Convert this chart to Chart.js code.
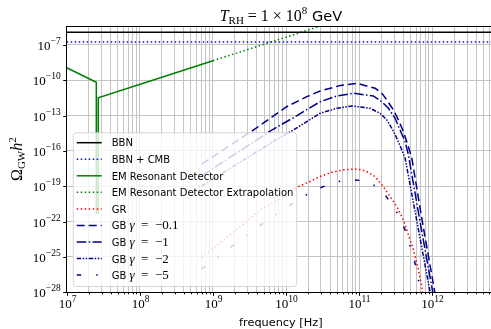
<!DOCTYPE html>
<html>
<head>
<meta charset="utf-8">
<script src="https://cdn.jsdelivr.net/npm/chart.js@4.4.1/dist/chart.umd.min.js"></script>
<style>
  html, body { margin: 0; padding: 0; background: #fff; overflow: hidden; }
  #wrap { width: 491px; height: 329px; overflow: hidden; }
</style>
</head>
<body>
<div id="wrap"><canvas id="chart"></canvas></div>
<script>
// values (frequency in Hz, Omega_GW h^2)
const bbnFreq = [1e7, 1e13];
const bbnOmega = [1.2e-6, 1.2e-6];
const cmbFreq = [1e7, 1e13];
const cmbOmega = [1.78e-7, 1.78e-7];
const emFreq = [1e7, 2.54e7, 2.54e7, 2.7e7, 2.7e7, 1e9];
const emOmega = [1.17e-9, 6.8e-11, 5.5e-22, 5.5e-22, 3.3e-12, 4.6e-9];
const emExtFreq = [1e9, 1e10, 1e11];
const emExtOmega = [4.6e-9, 4.6e-7, 4.6e-5];
const grFreq = [7.03e8, 2.35e9, 4.41e9, 9.18e9, 1.47e10, 2.13e10, 2.92e10, 4.40e10, 6.03e10, 8.79e10, 1.21e11,
  1.65e11, 2.14e11, 2.65e11, 3.27e11, 4.03e11, 4.71e11, 5.52e11, 6.46e11, 7.18e11, 7.48e11];
const grOmega = [9.1e-26, 3.7e-23, 9.8e-22, 1.32e-20, 9.3e-20, 2.57e-19, 6.8e-19, 1.66e-18, 2.45e-18, 2.95e-18, 2.14e-18,
  6.6e-19, 9.3e-20, 1.32e-20, 1.86e-21, 1.38e-22, 7.4e-24, 3.9e-25, 7.9e-27, 3.0e-28, 6.3e-29];
const gb01Freq = [7.03e8, 3.77e9, 1.02e10, 1.92e10, 2.92e10, 5.48e10, 9.27e10, 1.65e11, 2.04e11, 2.39e11, 2.94e11,
  3.44e11, 4.03e11, 4.71e11, 5.25e11, 7.24e11, 1.13e12];
const gb01Omega = [7.8e-18, 7.5e-15, 5.7e-13, 4.1e-12, 1.23e-11, 3.6e-11, 5.6e-11, 2.09e-11, 7.9e-12, 2.14e-12, 3.0e-13,
  4.3e-14, 4.4e-15, 2.29e-16, 2.4e-17, 1.38e-22, 2.2e-29];
const gb1Freq = [7.03e8, 6.37e9, 1.33e10, 2.92e10, 4.94e10, 8.34e10, 1.56e11, 2.04e11, 2.51e11, 3.10e11, 3.62e11,
  4.25e11, 4.71e11, 6.81e11, 1.06e12];
const gb1Omega = [7.6e-19, 6.0e-15, 8.1e-14, 1.51e-12, 4.7e-12, 7.9e-12, 4.7e-12, 1.51e-12, 4.2e-13, 5.9e-14, 6.0e-15,
  6.2e-16, 4.6e-17, 9.3e-23, 2.2e-29];
const gb2Freq = [7.03e8, 6.37e9, 1.33e10, 2.92e10, 4.94e10, 7.93e10, 1.41e11, 1.93e11, 2.39e11, 2.79e11, 3.27e11,
  3.83e11, 4.25e11, 6.29e11, 9.77e11];
const gb2Omega = [1.07e-19, 5.2e-16, 7.4e-15, 1.58e-13, 4.2e-13, 6.6e-13, 4.2e-13, 1.58e-13, 4.3e-14, 8.5e-15, 1.2e-15,
  1.2e-16, 2.4e-17, 5.2e-23, 2.2e-29];
const gb5Freq = [7.03e8, 4.19e9, 1.56e10, 2.49e10, 4.22e10, 7.11e10, 1.21e11, 1.93e11, 2.65e11, 3.44e11, 4.25e11,
  4.97e11, 5.81e11, 6.46e11, 7.03e11];
const gb5Omega = [9.5e-27, 3.8e-23, 9.5e-21, 4.9e-20, 1.82e-19, 4.0e-19, 2.82e-19, 6.8e-20, 4.9e-21, 3.7e-22, 1.95e-23,
  7.4e-25, 2.95e-26, 1.12e-27, 2.2e-29];

const xMajorTicks = [1e7, 1e8, 1e9, 1e10, 1e11, 1e12];
const xMinorSteps = [2, 3, 4, 5, 6, 7, 8, 9];
const yMajorTicks = [1e-28, 1e-25, 1e-22, 1e-19, 1e-16, 1e-13, 1e-10, 1e-7];

const SANS = '"DejaVu Sans", sans-serif';
const SERIF = '"Liberation Serif", "DejaVu Serif", serif';
const GRID = '#c4c4c4';

const pts = (xs, ys) => xs.map((x, i) => ({ x: x, y: ys[i] }));
const line = (label, xs, ys, color, dash) => ({
  label,
  data: pts(xs, ys),
  borderColor: color,
  backgroundColor: color,
  borderWidth: 1.5,
  borderDash: dash,
  borderCapStyle: 'butt',
  pointRadius: 0,
  fill: false,
  tension: 0,
});

const datasets = [
  line('BBN', bbnFreq, bbnOmega, '#000000', []),
  line('BBN + CMB', cmbFreq, cmbOmega, '#1010c0', [1.5, 2.5]),
  line('EM Resonant Detector', emFreq, emOmega, '#008000', []),
  line('EM Resonant Detector Extrapolation', emExtFreq, emExtOmega, '#008000', [1.5, 2.5]),
  line('GR', grFreq, grOmega, '#ff0000', [1.5, 2.5]),
  line('GB γ = −0.1', gb01Freq, gb01Omega, '#00008b', [8, 4]),
  line('GB γ = −1', gb1Freq, gb1Omega, '#00008b', [9.6, 2.4, 1.5, 2.4]),
  line('GB γ = −2', gb2Freq, gb2Omega, '#00008b', [4.5, 1.5, 1.5, 1.5, 1.5, 1.5]),
  line('GB γ = −5', gb5Freq, gb5Omega, '#00008b', [4.5, 15, 1.5, 15]),
];

// draw a run of text pieces with their own fonts / baseline shifts
const drawRun = (ctx, segs, x, y, align) => {
  let w = 0;
  segs.forEach(s => { ctx.font = s.font; s.w = ctx.measureText(s.t).width; w += s.w; });
  let cx = align === 'center' ? x - w / 2 : align === 'right' ? x - w : x;
  segs.forEach(s => { ctx.font = s.font; ctx.fillText(s.t, cx, y + (s.dy || 0)); cx += s.w; });
  return w;
};

const powLabel = (v) => {
  const p = Math.round(Math.log10(v));
  return [
    { t: '10', font: `13px ${SERIF}` },
    { t: p < 0 ? '−' + (-p) : String(p), font: `9.5px ${SERIF}`, dy: -6 },
  ];
};

const decor = {
  id: 'decor',
  beforeDraw(chart) {
    const ctx = chart.ctx;
    ctx.save();
    ctx.fillStyle = '#fff';
    ctx.fillRect(0, 0, chart.width, chart.height);
    ctx.restore();
  },
  afterDatasetsDraw(chart) {
    // legend box, drawn over the lines like matplotlib's framealpha=0.8
    const ctx = chart.ctx;
    const bx = 73.3, by = 132.7, bw = 223.4, bh = 153.8;
    ctx.save();
    ctx.beginPath();
    ctx.roundRect(bx, by, bw, bh, 3);
    ctx.fillStyle = 'rgba(255,255,255,0.8)';
    ctx.fill();
    ctx.lineWidth = 1;
    ctx.strokeStyle = 'rgba(204,204,204,0.8)';
    ctx.stroke();
    chart.data.datasets.forEach((ds, i) => {
      const ry = 142.7 + i * 16.55;
      ctx.beginPath();
      ctx.setLineDash(ds.borderDash || []);
      ctx.lineCap = 'butt';
      ctx.lineWidth = ds.borderWidth;
      ctx.strokeStyle = ds.borderColor;
      ctx.moveTo(76.7, ry);
      ctx.lineTo(101.7, ry);
      ctx.stroke();
      ctx.setLineDash([]);
      ctx.fillStyle = '#000';
      ctx.textAlign = 'left';
      ctx.textBaseline = 'alphabetic';
      const k = ds.label.indexOf('γ');
      if (k < 0) {
        drawRun(ctx, [{ t: ds.label, font: `10px ${SANS}` }], 111.7, ry + 3.7, 'left');
      } else {
        drawRun(ctx, [
          { t: ds.label.slice(0, k), font: `10px ${SANS}` },
          { t: 'γ', font: `italic 13px ${SERIF}` },
          { t: ds.label.slice(k + 1).replace(' = ', '  =  '), font: `13px ${SERIF}` },
        ], 111.7, ry + 4, 'left');
      }
    });
    ctx.restore();
  },
  afterDraw(chart) {
    const ctx = chart.ctx;
    const a = chart.chartArea;
    const xs = chart.scales.x, ys = chart.scales.y;
    ctx.save();
    ctx.strokeStyle = '#000';
    ctx.lineWidth = 1;
    // top spine
    ctx.beginPath();
    ctx.moveTo(a.left, a.top + 0.5);
    ctx.lineTo(a.right, a.top + 0.5);
    ctx.stroke();
    ctx.fillStyle = '#000';
    ctx.textBaseline = 'alphabetic';
    // x ticks and labels
    xs.ticks.forEach(t => {
      const px = Math.round(xs.getPixelForValue(t.value)) + 0.5;
      ctx.beginPath();
      ctx.moveTo(px, a.bottom);
      ctx.lineTo(px, a.bottom + (t.major ? 3.5 : 2));
      ctx.stroke();
      if (t.major) drawRun(ctx, powLabel(t.value), px, a.bottom + 16, 'center');
    });
    // y ticks and labels
    ys.ticks.forEach(t => {
      const py = Math.round(ys.getPixelForValue(t.value)) + 0.5;
      ctx.beginPath();
      ctx.moveTo(a.left - 3.5, py);
      ctx.lineTo(a.left, py);
      ctx.stroke();
      drawRun(ctx, powLabel(t.value), a.left - 6, py + 4.5, 'right');
    });
    // axis titles
    const cx = (a.left + a.right) / 2;
    drawRun(ctx, [{ t: 'frequency [Hz]', font: `11.3px ${SANS}` }], cx, 325.5, 'center');
    drawRun(ctx, [
      { t: 'T', font: `italic 16px ${SERIF}` },
      { t: 'RH', font: `11px ${SERIF}`, dy: 3 },
      { t: ' = 1 × 10', font: `16px ${SERIF}` },
      { t: '8', font: `11px ${SERIF}`, dy: -6.5 },
      { t: ' GeV', font: `14.5px ${SANS}` },
    ], cx, 20.5, 'center');
    ctx.translate(22, (a.top + a.bottom) / 2);
    ctx.rotate(-Math.PI / 2);
    drawRun(ctx, [
      { t: 'Ω', font: `16px ${SERIF}` },
      { t: 'GW', font: `11px ${SERIF}`, dy: 3 },
      { t: 'h', font: `italic 16px ${SERIF}` },
      { t: '2', font: `11px ${SERIF}`, dy: -6.5 },
    ], 0, 0, 'center');
    ctx.restore();
  },
};

const canvas = document.getElementById('chart');
canvas.width = 496;
canvas.height = 329;
canvas.style.width = '496px';
canvas.style.height = '329px';

new Chart(canvas.getContext('2d'), {
  type: 'line',
  data: { datasets },
  plugins: [decor],
  options: {
    responsive: false,
    animation: false,
    devicePixelRatio: 1,
    layout: { padding: { top: 26, right: 1, left: 0, bottom: 0 } },
    plugins: { legend: { display: false }, title: { display: false }, tooltip: { enabled: false } },
    scales: {
      x: {
        type: 'logarithmic',
        min: 1e7,
        max: 7.2e12,
        afterBuildTicks: (s) => {
          const ticks = [];
          xMajorTicks.forEach(v => {
            ticks.push({ value: v, major: true });
            xMinorSteps.forEach(m => { if (v * m <= 7.2e12) ticks.push({ value: v * m, major: false }); });
          });
          s.ticks = ticks;
        },
        afterFit: (s) => { s.height = 36.7; },
        ticks: { display: false },
        grid: { color: GRID, lineWidth: 1, drawTicks: false },
        border: { display: true, color: '#000', width: 1 },
      },
      y: {
        type: 'logarithmic',
        min: 1e-28,
        max: 4.07e-6,
        afterBuildTicks: (s) => { s.ticks = yMajorTicks.map(v => ({ value: v, major: true })); },
        afterFit: (s) => { s.width = 66.7; },
        ticks: { display: false },
        grid: { color: GRID, lineWidth: 1, drawTicks: false },
        border: { display: true, color: '#000', width: 1 },
      },
    },
  },
});
</script>
</body>
</html>
